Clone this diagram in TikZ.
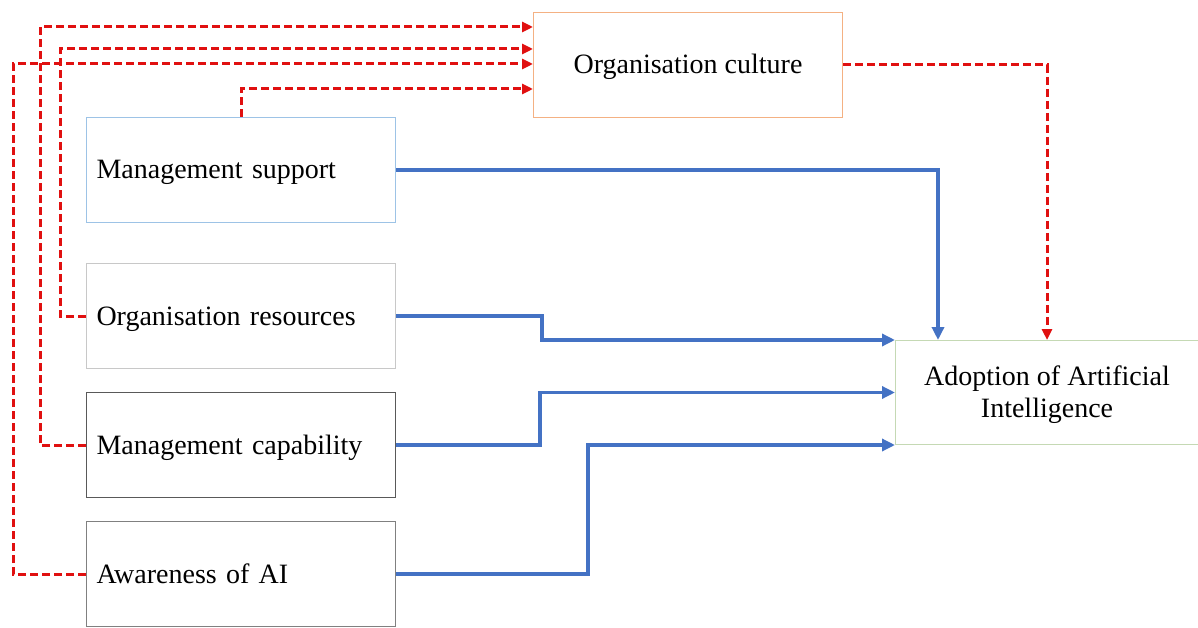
\documentclass[tikz,border=0pt]{standalone}
\usepackage{fontspec}
\setmainfont{Liberation Serif}
\usetikzlibrary{arrows.meta}
\definecolor{bl}{HTML}{4472C4}
\definecolor{rd}{HTML}{E01010}
\definecolor{peach}{HTML}{F4B183}
\definecolor{lblue}{HTML}{9DC3E6}
\definecolor{lgray}{HTML}{C8C8C8}
\definecolor{dgray}{HTML}{595959}
\definecolor{mgray}{HTML}{808080}
\definecolor{lgreen}{HTML}{C5D9B4}
\begin{document}
\begin{tikzpicture}[x=1pt,y=-1pt,
  box/.style={draw, rectangle, line width=1pt, minimum width=309pt, minimum height=105pt,
    inner xsep=10pt, inner ysep=0pt, text width=289pt, align=left, anchor=north west,
    text height=24pt, text depth=6pt,
    font=\fontsize{28}{32}\selectfont},
  cbox/.style={draw, rectangle, line width=1pt, minimum height=105pt, inner sep=0pt,
    align=center, anchor=north west, font=\fontsize{28}{32}\selectfont},
  redline/.style={draw=rd, line width=3pt, dash pattern=on 8pt off 4pt,
    -{Triangle[length=11pt,width=10pt]}},
  blueline/.style={draw=bl, line width=3.5pt, -{Triangle[length=13pt,width=12pt]}}]
\useasboundingbox (0,0) rectangle (1198,628);
\node[cbox, draw=peach, minimum width=309pt, text height=24pt, text depth=6pt] (oc) at (533,12) {Organisation culture};
\node[box, draw=lblue] (ms) at (86,117) {Management support};
\node[box, draw=lgray] (or) at (86,263) {Organisation resources};
\node[box, draw=dgray] (mc) at (86,392) {Management capability};
\node[box, draw=mgray] (aw) at (86,521) {Awareness of AI};
\node[cbox, draw=lgreen, minimum width=303pt, minimum height=104pt] (ad) at (895,340) {\rule{0pt}{24pt}Adoption of Artificial\\Intelligence};
% red dashed
\draw[redline] (mc.west) -| (40,27) -- (oc.west |- 40,27);
\draw[redline] (or.west) -| (60,49) -- (oc.west |- 60,49);
\draw[redline] (aw.west) -| (13,64) -- (oc.west |- 13,64);
\draw[redline] (ms.north) |- (oc.west |- 0,89);
\draw[redline] (oc.east) -| (ad.north);
% blue
\draw[blueline] (ms.east) -| ([xshift=43pt]ad.north west);
\draw[blueline] (or.east) -- (or.east -| 542,0) |- (ad.north west);
\draw[blueline] (mc.east) -- (mc.east -| 540,0) |- (ad.west);
\draw[blueline] (aw.east) -- (aw.east -| 588,0) |- (ad.south west);
\end{tikzpicture}
\end{document}
